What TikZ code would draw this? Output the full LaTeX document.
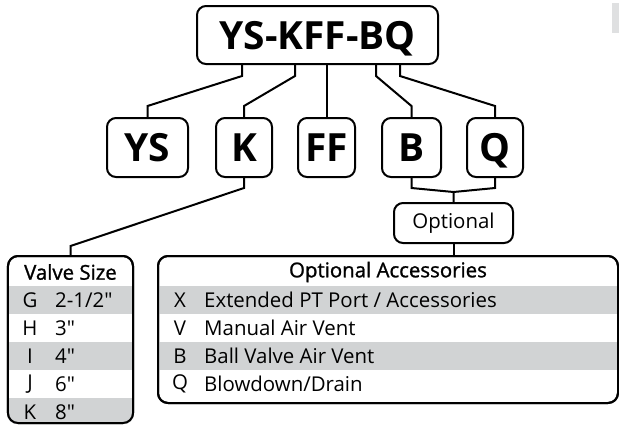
\documentclass[tikz,border=0pt]{standalone}
\usepackage{fontspec}
\setmainfont{Open Sans}
\newfontfamily\headfont[FakeBold=1.2]{Open Sans}
\newfontfamily\plainfont{Open Sans}
\definecolor{bandgray}{RGB}{209,211,212}
\tikzset{
  codebox/.style={draw, line width=2bp, rounded corners=9bp, inner sep=0pt,
    text height=28bp, text depth=0pt, font=\fontsize{39}{39}\selectfont\bfseries},
  optbox/.style={draw, line width=2bp, rounded corners=9bp, inner sep=0pt,
    font=\fontsize{20.5}{20.5}\selectfont},
  tablebox/.style={draw, line width=2bp, rounded corners=10bp, inner sep=0pt},
  link/.style={line width=2bp},
  rowtext/.style={inner sep=0pt, font=\fontsize{20.5}{20.5}\selectfont\plainfont},
  headtext/.style={inner sep=0pt, font=\fontsize{20.5}{20.5}\selectfont\headfont}
}
\begin{document}
\begin{tikzpicture}[x=1bp,y=-1bp]
\useasboundingbox (0,0) rectangle (619,424);
\fill[bandgray!70] (612,3) rectangle (620,33);
% model code and its parts
\node[codebox, minimum width=241bp, minimum height=58bp] (code) at (317.5,35) {YS-KFF-BQ};
\node[codebox, minimum width=81bp, minimum height=59bp] (ys) at (147.5,147.5) {YS};
\node[codebox, minimum width=56bp, minimum height=59bp] (k) at (244,147.5) {K};
\node[codebox, minimum width=57bp, minimum height=59bp] (ff) at (326.5,147.5) {FF};
\node[codebox, minimum width=59bp, minimum height=59bp] (b) at (411.5,147.5) {B};
\node[codebox, minimum width=56bp, minimum height=59bp] (q) at (495,147.5) {Q};
\node[optbox, minimum width=119bp, minimum height=40bp] (opt) at (453.5,223) {Optional};
\draw[link] ([xshift=-75.5bp]code.south) -- ++(0,11) -- ([yshift=11bp]ys.north) -- (ys.north);
\draw[link] ([xshift=-22.5bp]code.south) -- ++(0,11) -- ([yshift=11bp]k.north) -- (k.north);
\draw[link] (code.south -| ff.north) -- (ff.north);
\draw[link] ([xshift=58.5bp]code.south) -- ++(0,11) -- ([yshift=11bp]b.north) -- (b.north);
\draw[link] ([xshift=82.5bp]code.south) -- ++(0,11) -- ([yshift=11bp]q.north) -- (q.north);
\draw[link] (b.south) -- ++(0,10) -- ([yshift=10bp]opt.north);
\draw[link] (q.south) -- ++(0,10) -- ([yshift=10bp]opt.north) -- (opt.north);
% valve size table
\node[tablebox, minimum width=125bp, minimum height=167bp] (valve) at (70.5,339.5) {};
\begin{scope}
\clip[rounded corners=10bp] (valve.north west) rectangle (valve.south east);
\foreach \i in {0,2,4}
  \fill[bandgray] (8,{286+28*\i}) rectangle (133,{314+28*\i});
\end{scope}
\node[tablebox, minimum width=125bp, minimum height=167bp] at (valve.center) {};
\node[headtext] (valvehead) at (70.5,272) {Valve Size};
\foreach \l/\v [count=\i from 0] in {G/{2-1/2"},H/{3"},I/{4"},J/{6"},K/{8"}}{
  \node[rowtext] (vl\i) at (30,{300+28*\i}) {\l};
  \node[rowtext, anchor=west] (vv\i) at (55,{300+28*\i}) {\v};
}
\draw[link] (k.south) -- ++(0,10) -- ([yshift=9bp]valve.north) -- (valve.north);
% accessories table
\node[tablebox, minimum width=460bp, minimum height=147bp] (acc) at (388,329.5) {};
\begin{scope}
\clip[rounded corners=10bp] (acc.north west) rectangle (acc.south east);
\foreach \i in {0,2}
  \fill[bandgray] (158,{286+28*\i}) rectangle (618,{314+28*\i});
\end{scope}
\node[tablebox, minimum width=460bp, minimum height=147bp] at (acc.center) {};
\node[headtext] (acchead) at (388,272) {Optional Accessories};
\foreach \l/\v [count=\i from 0] in {X/{Extended PT Port / Accessories},V/{Manual Air Vent},B/{Ball Valve Air Vent},Q/{Blowdown/Drain}}{
  \node[rowtext] (al\i) at (180,{300+28*\i}) {\l};
  \node[rowtext, anchor=west] (av\i) at (204,{300+28*\i}) {\v};
}
\draw[link] (opt.south) -- (opt.south |- acc.north);
\end{tikzpicture}
\end{document}
